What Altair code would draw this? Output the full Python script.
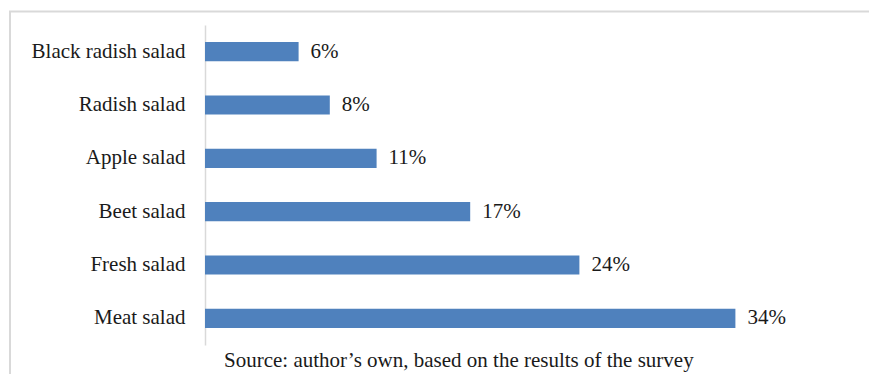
import altair as alt
import pandas as pd

# Survey shares of preferred salads
salads = ["Black radish salad", "Radish salad", "Apple salad", "Beet salad", "Fresh salad", "Meat salad"]
shares = [6, 8, 11, 17, 24, 34]
labels = ["6%", "8%", "11%", "17%", "24%", "34%"]
source_note = "Source: author\u2019s own, based on the results of the survey"

df = pd.DataFrame({"salad": salads, "share": shares, "label": labels})

FONT = "Liberation Serif"
BLUE = "#4F81BD"
GREY = "#D9D9D9"
INK = "#1a1a1a"

y_enc = alt.Y(
    "salad:N",
    sort=salads,
    scale=alt.Scale(paddingInner=0.64, paddingOuter=0.32),
    axis=alt.Axis(
        title=None,
        ticks=False,
        labelPadding=20,
        labelFont=FONT,
        labelFontSize=21,
        labelColor=INK,
        domainColor=GREY,
        domainWidth=1.5,
        grid=False,
    ),
)
x_enc = alt.X("share:Q", scale=alt.Scale(domain=[0, 40]), axis=None)

bars = alt.Chart(df).mark_bar(color=BLUE).encode(y=y_enc, x=x_enc)

values = alt.Chart(df).mark_text(
    align="left", baseline="middle", dx=12, font=FONT, fontSize=21, color=INK
).encode(y=y_enc, x=x_enc, text="label:N")

one = pd.DataFrame({"f": [0]})

# outer frame around the whole figure (top and left edges fall inside the canvas)
frame = alt.Chart(one).mark_rect(
    fill=None, stroke=GREY, strokeWidth=2
).encode(
    x=alt.value(-195), x2=alt.value(700), y=alt.value(-13.5), y2=alt.value(400)
)

note = alt.Chart(one).mark_text(
    align="left", baseline="alphabetic", font=FONT, fontSize=21, color=INK
).encode(x=alt.value(19), y=alt.value(342), text=alt.value(source_note))

chart = (
    alt.layer(frame, bars, values, note)
    .properties(
        width=624,
        height=320,
        autosize=alt.AutoSizeParams(type="none"),
        padding={"left": 205, "top": 25, "right": 40, "bottom": 29},
        background="white",
    )
    .configure_view(strokeWidth=0, stroke="transparent")
)

chart.save("out.html", embed_options={"renderer": "svg", "actions": False})
